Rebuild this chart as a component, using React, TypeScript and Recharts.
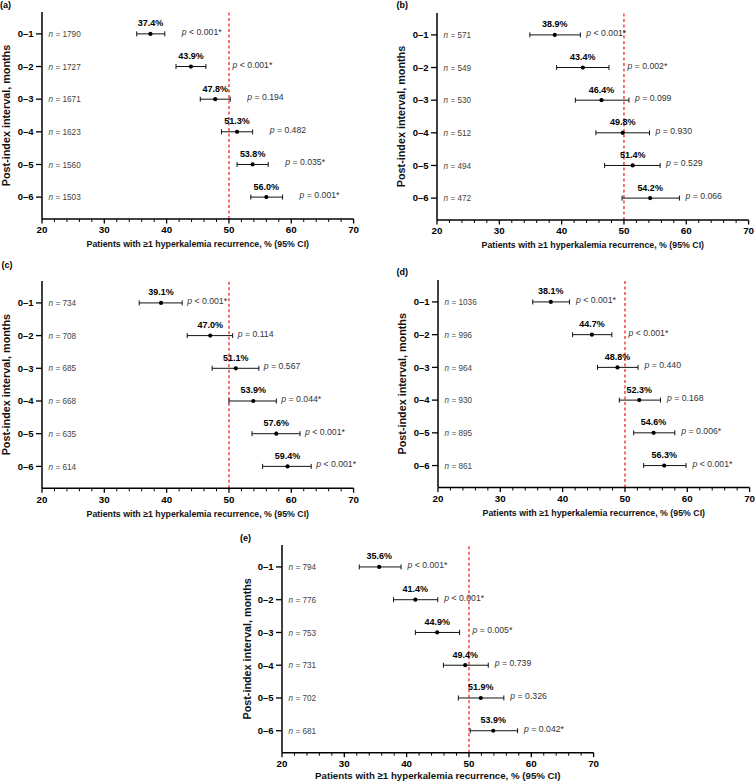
import React from 'react';
import { ScatterChart, Scatter, XAxis, YAxis, ErrorBar, ReferenceLine } from 'recharts';

const intervals = ['0–1', '0–2', '0–3', '0–4', '0–5', '0–6'];
const rowIndex = [1, 2, 3, 4, 5, 6];
const xTicks = [20, 22, 24, 26, 28, 30, 32, 34, 36, 38, 40, 42, 44, 46, 48, 50, 52, 54, 56, 58, 60, 62, 64, 66, 68, 70];

// (a)
const aPct = [37.4, 43.9, 47.8, 51.3, 53.8, 56.0];
const aLow = [35.2, 41.5, 45.4, 48.8, 51.3, 53.5];
const aHigh = [39.7, 46.3, 50.2, 53.8, 56.3, 58.6];
const aN = [1790, 1727, 1671, 1623, 1560, 1503];
const aP = ['< 0.001*', '< 0.001*', '= 0.194', '= 0.482', '= 0.035*', '= 0.001*'];

// (b)
const bPct = [38.9, 43.4, 46.4, 49.8, 51.4, 54.2];
const bLow = [34.9, 39.2, 42.2, 45.5, 46.9, 49.7];
const bHigh = [43.0, 47.6, 50.8, 54.1, 55.8, 58.9];
const bN = [571, 549, 530, 512, 494, 472];
const bP = ['< 0.001*', '= 0.002*', '= 0.099', '= 0.930', '= 0.529', '= 0.066'];

// (c)
const cPct = [39.1, 47.0, 51.1, 53.9, 57.6, 59.4];
const cLow = [35.6, 43.3, 47.3, 50.0, 53.7, 55.4];
const cHigh = [42.5, 50.6, 54.8, 57.6, 61.4, 63.2];
const cN = [734, 708, 685, 668, 635, 614];
const cP = ['< 0.001*', '= 0.114', '= 0.567', '= 0.044*', '< 0.001*', '< 0.001*'];

// (d)
const dPct = [38.1, 44.7, 48.8, 52.3, 54.6, 56.3];
const dLow = [35.2, 41.6, 45.6, 49.1, 51.4, 53.0];
const dHigh = [41.1, 47.9, 52.1, 55.7, 58.0, 59.8];
const dN = [1036, 996, 964, 930, 895, 861];
const dP = ['< 0.001*', '< 0.001*', '= 0.440', '= 0.168', '= 0.006*', '< 0.001*'];

// (e)
const ePct = [35.6, 41.4, 44.9, 49.4, 51.9, 53.9];
const eLow = [32.4, 37.9, 41.4, 45.9, 48.3, 50.2];
const eHigh = [39.1, 45.0, 48.5, 53.1, 55.6, 57.8];
const eN = [794, 776, 753, 731, 702, 681];
const eP = ['< 0.001*', '< 0.001*', '= 0.005*', '= 0.739', '= 0.326', '= 0.042*'];

const FONT = '"Liberation Sans", Arial, Helvetica, sans-serif';
const AXIS_W = 42;
const PLOT_W = 311.6;
const RIGHT = 40;
const TOP = 12;
const LINE_X = AXIS_W + (PLOT_W * 30) / 50;

const panels = [
  { letter: '(a)', x0: 41.7, t: 12, b: 219, lx: 0, ly: 8, gap: 17, titleSize: 8.8, titleY: 28.5, pct: aPct, low: aLow, high: aHigh, n: aN, p: aP },
  { letter: '(b)', x0: 437.3, t: 13, b: 220, lx: 396.5, ly: 8, gap: 6, titleSize: 8.8, titleY: 28.5, pct: bPct, low: bLow, high: bHigh, n: bN, p: bP },
  { letter: '(c)', x0: 42.3, t: 281, b: 488.3, lx: 1.5, ly: 267.5, gap: 5, titleSize: 8.8, titleY: 28.5, pct: cPct, low: cLow, high: cHigh, n: cN, p: cP },
  { letter: '(d)', x0: 438.3, t: 279.5, b: 487, lx: 396.5, ly: 275, gap: 6.5, titleSize: 8.8, titleY: 28.5, pct: dPct, low: dLow, high: dHigh, n: dN, p: dP },
  { letter: '(e)', x0: 281.7, t: 545, b: 752.7, lx: 240, ly: 541, gap: 6.5, titleSize: 9.7, titleY: 26.8, pct: ePct, low: eLow, high: eHigh, n: eN, p: eP },
];

const XTick = (props: any) => {
  const { x, y, payload } = props;
  const major = payload.value % 10 === 0;
  return (
    <g>
      <line x1={x} y1={y} x2={x} y2={y + (major ? 4.5 : 3)} stroke="#000" strokeWidth={major ? 1.3 : 1} />
      {major && (
        <text x={x} y={y + 14.5} textAnchor="middle" fontFamily={FONT} fontSize={9.8} fontWeight="bold" fill="#000">
          {payload.value}
        </text>
      )}
    </g>
  );
};

const YTick = (props: any) => {
  const { x, y, payload } = props;
  return (
    <g>
      <line x1={x - 6} y1={y} x2={x} y2={y} stroke="#000" strokeWidth={1.3} />
      <text x={x - 8.5} y={y + 3.3} textAnchor="end" fontFamily={FONT} fontSize={9.5} fontWeight="bold" fill="#000">
        {intervals[payload.value - 1]}
      </text>
    </g>
  );
};

const Panel = ({ cfg }: { cfg: any }) => {
  const plotH = cfg.b - cfg.t;
  const width = AXIS_W + PLOT_W + RIGHT;
  const height = TOP + plotH + 42;

  const points = rowIndex.map((row, i) => ({
    x: cfg.pct[i],
    row,
    pct: cfg.pct[i],
    err: [cfg.pct[i] - cfg.low[i], cfg.high[i] - cfg.pct[i]],
  }));
  const nRows = rowIndex.map((row, i) => ({ x: 20, row, n: cfg.n[i] }));
  const pRows = rowIndex.map((row, i) => ({ x: cfg.high[i], row, p: cfg.p[i] }));

  const yTitle = () => {
    const cx = AXIS_W - 35.5;
    const cy = TOP + plotH / 2;
    return (
      <text x={cx} y={cy} transform={`rotate(-90 ${cx} ${cy})`} textAnchor="middle" dominantBaseline="central"
        fontFamily={FONT} fontSize={10.8} fontWeight="bold" fill="#111">
        Post-index interval, months
      </text>
    );
  };
  const xTitle = () => (
    <text x={AXIS_W + PLOT_W / 2} y={TOP + plotH + cfg.titleY} textAnchor="middle" fontFamily={FONT}
      fontSize={cfg.titleSize} fontWeight="bold" fill="#111">
      Patients with ≥1 hyperkalemia recurrence, % (95% CI)
    </text>
  );

  return (
    <div style={{ position: 'absolute', left: cfg.x0 - AXIS_W, top: cfg.t - TOP, width, height }}>
      <ScatterChart width={width} height={height} margin={{ top: TOP, right: RIGHT, bottom: 0, left: 0 }}>
        <XAxis type="number" dataKey="x" domain={[20, 70]} ticks={xTicks} interval={0}
          height={42} tickSize={0} tickMargin={0} tickLine={false} tick={<XTick />}
          axisLine={{ stroke: '#000', strokeWidth: 1.5 }} label={xTitle} />
        <YAxis type="number" dataKey="row" domain={[0.33, 6.67]} ticks={rowIndex} interval={0} reversed
          width={AXIS_W} tickSize={0} tickMargin={0} tickLine={false} tick={<YTick />}
          axisLine={{ stroke: '#000', strokeWidth: 1.5 }} label={yTitle} />
        <ReferenceLine x={50} stroke="#ee2a2a" strokeWidth={1.3} strokeDasharray="3 2.5" />
        <Scatter data={nRows} isAnimationActive={false}
          shape={(s: any) => (
            <text x={s.cx + 6.6} y={s.cy + 3.2} fontFamily={FONT} fontSize={8.2} fill="#444">
              <tspan fontStyle="italic">n</tspan> = {s.payload.n}
            </text>
          )} />
        <Scatter data={pRows} isAnimationActive={false}
          shape={(s: any) => {
            let start = s.cx + cfg.gap;
            if (start > LINE_X - 12 && start < LINE_X + 2) start = LINE_X + 3.5;
            return (
              <text x={start} y={s.cy + 1} fontFamily={FONT} fontSize={8.7} fill="#333">
                <tspan fontStyle="italic">p</tspan> {s.payload.p}
              </text>
            );
          }} />
        <Scatter data={points} isAnimationActive={false}
          shape={(s: any) => (
            <g>
              <circle cx={s.cx} cy={s.cy} r={2.1} fill="#000" />
              <text x={s.cx} y={s.cy - 7.5} textAnchor="middle" fontFamily={FONT} fontSize={9} fontWeight="bold" fill="#000">
                {s.payload.pct.toFixed(1)}%
              </text>
            </g>
          )}>
          <ErrorBar dataKey="err" direction="x" width={2.5} stroke="#111" strokeWidth={1} />
        </Scatter>
      </ScatterChart>
    </div>
  );
};

export default function App() {
  return (
    <div style={{ position: 'absolute', left: 0, top: 0, width: 755, height: 783, background: '#fff', overflow: 'hidden' }}>
      {panels.map((cfg) => (
        <Panel key={cfg.letter} cfg={cfg} />
      ))}
      <svg width={755} height={783} style={{ position: 'absolute', left: 0, top: 0, pointerEvents: 'none' }}>
        {panels.map((cfg) => (
          <text key={cfg.letter} x={cfg.lx} y={cfg.ly} fontFamily={FONT} fontSize={9} fontWeight="bold" fill="#000">
            {cfg.letter}
          </text>
        ))}
      </svg>
    </div>
  );
}
